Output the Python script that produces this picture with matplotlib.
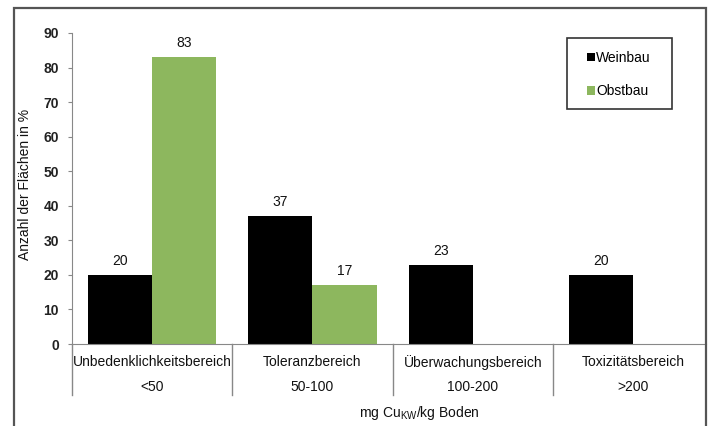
import matplotlib
matplotlib.use('Agg')
import matplotlib.pyplot as plt
import matplotlib.patches as mpatches
import numpy as np

plt.rcParams['font.family'] = ['Liberation Sans', 'DejaVu Sans']
plt.rcParams['mathtext.fontset'] = 'custom'
plt.rcParams['mathtext.rm'] = 'Liberation Sans'

# Cu-Gehalte der Flächen nach Bewertungsbereich
bereiche = ['Unbedenklichkeitsbereich', 'Toleranzbereich', 'Überwachungsbereich', 'Toxizitätsbereich']
klassen = ['<50', '50-100', '100-200', '>200']
weinbau = [20, 37, 23, 20]
obstbau = [83, 17, None, None]

fig = plt.figure(figsize=(7.1, 4.26), dpi=100)
ax = fig.add_axes([72/710, 1-344/426, 634/710, 311/426])

x = np.arange(len(bereiche))
w = 0.4
green = '#8DB75E'
fs = 10
b1 = ax.bar(x - w/2, weinbau, w, color='black', label='Weinbau')
ob_x = [xi + w/2 for xi, v in zip(x, obstbau) if v is not None]
ob_v = [v for v in obstbau if v is not None]
b2 = ax.bar(ob_x, ob_v, w, color=green, label='Obstbau')

for bars in (b1, b2):
    for r in bars:
        ax.annotate('%d' % r.get_height(), (r.get_x() + r.get_width()/2, r.get_height()),
                    xytext=(0, 5), textcoords='offset points',
                    ha='center', va='bottom', fontsize=fs, color='#111')

ax.set_xlim(-0.5, -0.5 + 634/160.3)
ax.set_ylim(0, 90)
ax.set_yticks(range(0, 91, 10))
ax.tick_params(axis='y', direction='out', length=3, color='#888', labelsize=fs,
               labelcolor='#222', pad=6.5)
for lab in ax.get_yticklabels():
    lab.set_fontweight('bold')
ax.set_xticks([])
for s in ('top', 'right'):
    ax.spines[s].set_visible(False)
ax.spines['left'].set_color('#888')
ax.spines['bottom'].set_color('#888')

# two-level category axis
trans = ax.get_xaxis_transform()
for i in range(len(bereiche)):
    ax.plot([i - 0.5, i - 0.5], [0, -0.164], transform=trans, color='#888', lw=1, clip_on=False)
    ax.text(i, -0.058, bereiche[i], transform=trans, ha='center', va='center', fontsize=fs, color='#111')
    ax.text(i, -0.138, klassen[i], transform=trans, ha='center', va='center', fontsize=fs, color='#111')

fig.text(419/710, 1-413/426, r'mg Cu$_{\mathrm{KW}}$/kg Boden', ha='center', va='center', fontsize=fs, color='#111')
fig.text(25/710, 1-184/426, 'Anzahl der Flächen in %', rotation=90, ha='center', va='center',
         fontsize=fs, color='#111')

# legend entries without frame, box drawn separately (wider side margins)
leg = fig.legend(handles=[b1, b2], loc='upper left', bbox_to_anchor=(587/710, 1-51/426),
                 fontsize=fs, frameon=False,
                 handlelength=0.55, handleheight=0.55, handletextpad=0.12,
                 labelspacing=1.4, borderpad=0, borderaxespad=0)
fig.patches.append(mpatches.Rectangle((567/710, 1-109/426), 105/710, 71/426,
                                      transform=fig.transFigure, fill=False,
                                      edgecolor='#333', lw=1.2))

# outer frame
fig.patches.append(mpatches.Rectangle((14/710, -0.02), 692/710, 1.02 - 8/426,
                                      transform=fig.transFigure, fill=False,
                                      edgecolor='#555', lw=1.6, clip_on=False))

fig.savefig('out.png', dpi=100)
